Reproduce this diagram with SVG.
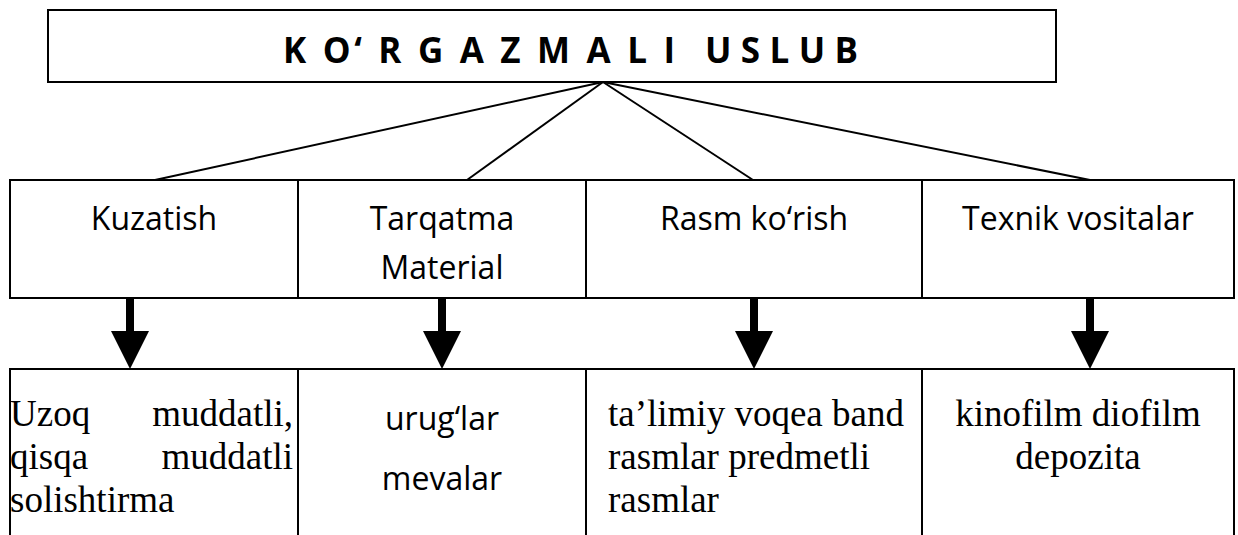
<svg xmlns="http://www.w3.org/2000/svg" width="1238" height="535" viewBox="0 0 1238 535">
<style>
.box{fill:#fff;stroke:#000;stroke-width:2}
.ln{stroke:#000;stroke-width:2;fill:none}
.sans{font-family:"Open Sans","Liberation Sans",sans-serif;font-size:32px;fill:#000}
.serif{font-family:"Liberation Serif","Times New Roman",serif;font-size:37px;fill:#000}
.title{font-family:"Open Sans","Liberation Sans",sans-serif;font-size:35px;font-weight:bold;fill:#000}
.c{text-anchor:middle}
</style>
<defs>
<path id="arr" d="M-4,0 H4 V33 H19 L0,71 L-19,33 H-4 Z" fill="#000"/>
</defs>
<rect width="1238" height="535" fill="#fff"/>
<g id="title">
<rect class="box" x="48" y="10" width="1008" height="72"/>
<text class="title" y="63"><tspan x="283" textLength="392" lengthAdjust="spacing">K O‘ R G A Z M A L I</tspan><tspan x="705" textLength="153" lengthAdjust="spacing">U S L U B</tspan></text>
</g>
<g id="connectors">
<line class="ln" x1="603" y1="82" x2="155" y2="180"/>
<line class="ln" x1="603" y1="82" x2="467" y2="180"/>
<line class="ln" x1="603" y1="82" x2="753" y2="180"/>
<line class="ln" x1="603" y1="82" x2="1090" y2="180"/>
<use href="#arr" x="130" y="298"/>
<use href="#arr" x="442" y="298"/>
<use href="#arr" x="754" y="298"/>
<use href="#arr" x="1090" y="298"/>
</g>
<g id="kuzatish">
<rect class="box" x="10" y="180" width="288" height="118"/>
<text class="sans c" x="154" y="230">Kuzatish</text>
</g>
<g id="tarqatma">
<rect class="box" x="298" y="180" width="288" height="118"/>
<text class="sans c" x="442" y="230">Tarqatma</text>
<text class="sans c" x="442" y="279">Material</text>
</g>
<g id="rasm">
<rect class="box" x="586" y="180" width="336" height="118"/>
<text class="sans c" x="754" y="230">Rasm ko‘rish</text>
</g>
<g id="texnik">
<rect class="box" x="922" y="180" width="312" height="118"/>
<text class="sans c" x="1078" y="230">Texnik vositalar</text>
</g>
<g id="bottom-lines">
<path class="ln" d="M10,545 V369 H1234 V545 M298,369 V545 M586,369 V545 M922,369 V545"/>
</g>
<g id="b1">
<text class="serif" y="426"><tspan x="10">Uzoq</tspan><tspan x="293" text-anchor="end">muddatli,</tspan></text>
<text class="serif" y="469"><tspan x="10">qisqa</tspan><tspan x="293" text-anchor="end">muddatli</tspan></text>
<text class="serif" x="10" y="512">solishtirma</text>
</g>
<g id="b2">
<text class="sans c" x="442" y="430">urug‘lar</text>
<text class="sans c" x="442" y="490">mevalar</text>
</g>
<g id="b3">
<text class="serif" x="608" y="426">ta’limiy voqea band</text>
<text class="serif" x="608" y="469">rasmlar predmetli</text>
<text class="serif" x="608" y="512">rasmlar</text>
</g>
<g id="b4">
<text class="serif c" x="1078" y="426">kinofilm diofilm</text>
<text class="serif c" x="1078" y="469">depozita</text>
</g>
</svg>
